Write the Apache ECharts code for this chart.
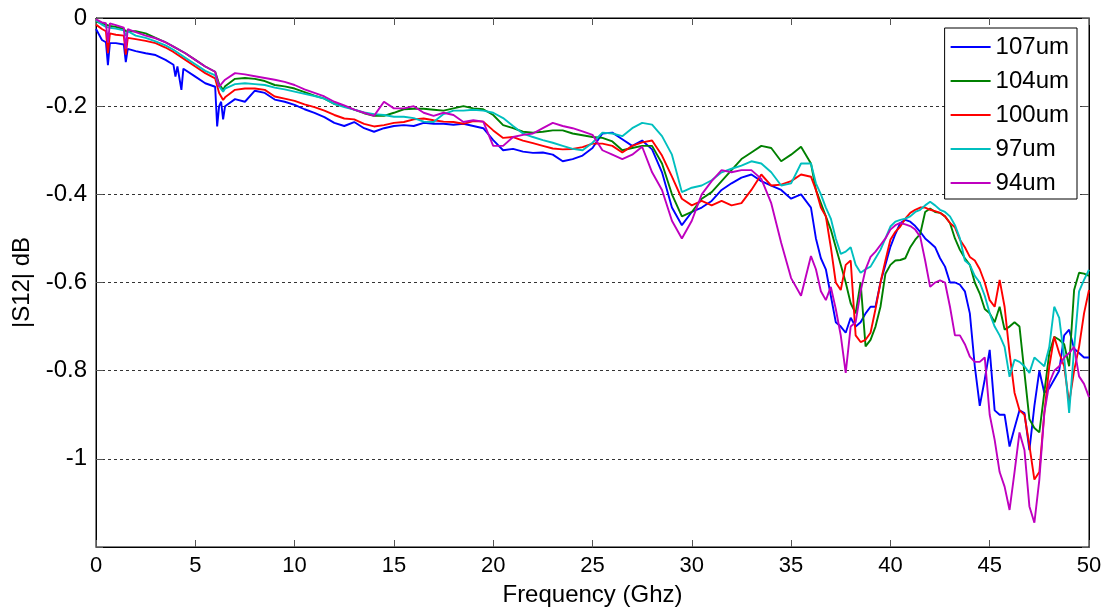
<!DOCTYPE html>
<html>
<head>
<meta charset="utf-8">
<script src="https://cdn.jsdelivr.net/npm/echarts@6/dist/echarts.min.js"></script>
<style>
html,body{margin:0;padding:0;background:#fff;}
#chart{width:1114px;height:612px;}
</style>
</head>
<body>
<div id="chart"></div>
<script>
// Frequency points (GHz)
const freq = [0,0.3,0.5,0.6,0.7,1,1.4,1.5,1.6,2,2.5,3,3.5,3.9,4,4.1,4.2,4.3,4.4,4.5,5,5.5,6,6.1,6.2,6.3,6.4,6.5,
  7,7.5,8,8.5,9,9.5,10,10.5,11,11.5,12,12.5,13,13.5,14,14.5,15,15.5,16,16.5,17,17.5,18,18.5,19,19.5,20,20.5,21,21.5,
  22,22.5,23,23.5,24,24.5,25,25.5,26,26.5,27,27.5,28,28.5,29,29.5,30,30.5,31,31.5,32,32.5,33,33.5,34,34.5,35,35.5,36,
  36.25,36.5,36.75,37,37.25,37.5,37.75,38,38.25,38.5,38.75,39,39.25,39.5,39.75,40,40.25,40.5,40.75,41,41.25,41.5,41.75,42,
  42.25,42.5,42.75,43,43.25,43.5,43.75,44,44.25,44.5,44.75,45,45.25,45.5,45.75,46,46.25,46.5,46.75,47,47.25,47.5,47.75,48,
  48.25,48.5,48.75,49,49.25,49.5,49.75,50];

const s107 = [-0.025,-0.05,-0.055,-0.107,-0.057,-0.057,-0.06,-0.1,-0.07,-0.075,-0.08,-0.084,-0.095,-0.106,-0.133,-0.11,-0.11,-0.163,-0.115,-0.118,-0.133,-0.148,-0.156,-0.246,-0.2,-0.19,-0.23,-0.2,
  -0.184,-0.19,-0.165,-0.17,-0.185,-0.19,-0.197,-0.207,-0.215,-0.225,-0.238,-0.245,-0.236,-0.25,-0.258,-0.25,-0.245,-0.243,-0.245,-0.238,-0.24,-0.24,-0.242,-0.24,-0.245,-0.25,-0.277,-0.3,-0.297,-0.303,
  -0.306,-0.305,-0.31,-0.325,-0.32,-0.312,-0.295,-0.262,-0.26,-0.275,-0.29,-0.278,-0.298,-0.35,-0.43,-0.47,-0.44,-0.43,-0.415,-0.39,-0.375,-0.362,-0.355,-0.37,-0.38,-0.39,-0.41,-0.4,-0.43,
  -0.5,-0.545,-0.57,-0.63,-0.69,-0.7,-0.714,-0.68,-0.7,-0.69,-0.67,-0.655,-0.655,-0.6,-0.56,-0.519,-0.49,-0.465,-0.458,-0.462,-0.472,-0.485,-0.5,-0.51,
  -0.52,-0.545,-0.564,-0.6,-0.6,-0.605,-0.62,-0.67,-0.79,-0.88,-0.82,-0.753,-0.89,-0.9,-0.9,-0.972,-0.93,-0.89,-0.896,-0.98,-0.88,-0.8,-0.85,-0.84,
  -0.82,-0.8,-0.72,-0.707,-0.75,-0.76,-0.77,-0.77];

const s104 = [-0.008,-0.012,-0.015,-0.018,-0.018,-0.02,-0.025,-0.03,-0.026,-0.03,-0.035,-0.045,-0.055,-0.065,-0.067,null,null,null,null,-0.08,-0.095,-0.11,-0.122,null,-0.15,null,-0.163,-0.155,
  -0.138,-0.136,-0.138,-0.143,-0.152,-0.155,-0.16,-0.168,-0.176,-0.183,-0.195,-0.2,-0.208,-0.216,-0.222,-0.222,-0.215,-0.207,-0.206,-0.206,-0.208,-0.21,-0.205,-0.2,-0.205,-0.207,-0.22,-0.243,-0.25,-0.258,
  -0.26,-0.258,-0.255,-0.255,-0.262,-0.266,-0.27,-0.272,-0.28,-0.3,-0.295,-0.29,-0.29,-0.33,-0.4,-0.45,-0.44,-0.41,-0.395,-0.37,-0.345,-0.32,-0.305,-0.29,-0.295,-0.325,-0.31,-0.292,-0.33,
  -0.39,-0.42,-0.45,-0.48,-0.52,-0.56,-0.6,-0.647,-0.67,-0.6,-0.745,-0.73,-0.7,-0.655,-0.58,-0.56,-0.55,-0.549,-0.545,-0.52,-0.503,-0.49,-0.44,-0.432,
  -0.44,-0.442,-0.45,-0.465,-0.5,-0.526,-0.545,-0.56,-0.6,-0.625,-0.66,-0.67,-0.69,-0.655,-0.707,-0.7,-0.69,-0.7,-0.805,-0.91,-0.93,-0.94,-0.85,-0.76,
  -0.723,-0.73,-0.74,-0.79,-0.617,-0.578,-0.58,-0.585];

const s100 = [-0.015,-0.025,-0.03,-0.08,-0.035,-0.038,-0.04,-0.083,-0.045,-0.048,-0.052,-0.057,-0.067,-0.077,-0.08,null,null,null,null,-0.095,-0.11,-0.125,-0.137,null,-0.17,null,-0.186,-0.18,
  -0.163,-0.16,-0.16,-0.163,-0.178,-0.183,-0.188,-0.196,-0.202,-0.21,-0.22,-0.228,-0.23,-0.24,-0.246,-0.243,-0.238,-0.236,-0.23,-0.228,-0.232,-0.235,-0.236,-0.24,-0.234,-0.235,-0.255,-0.272,-0.27,-0.278,
  -0.284,-0.29,-0.296,-0.298,-0.297,-0.293,-0.285,-0.285,-0.29,-0.305,-0.29,-0.282,-0.278,-0.312,-0.36,-0.41,-0.425,-0.415,-0.425,-0.415,-0.425,-0.42,-0.39,-0.355,-0.38,-0.378,-0.37,-0.355,-0.36,
  -0.39,-0.43,-0.45,-0.52,-0.6,-0.617,-0.56,-0.55,-0.72,-0.735,-0.73,-0.714,-0.66,-0.6,-0.55,-0.503,-0.485,-0.473,-0.455,-0.442,-0.435,-0.43,-0.43,-0.435,
  -0.438,-0.442,-0.45,-0.465,-0.475,-0.503,-0.52,-0.542,-0.55,-0.57,-0.6,-0.64,-0.655,-0.594,-0.655,-0.76,-0.85,-0.89,-0.9,-0.97,-1.047,-1.03,-0.896,-0.79,
  -0.723,-0.76,-0.79,-0.873,-0.8,-0.746,-0.67,-0.617];

const s97 = [-0.005,-0.015,-0.02,-0.022,-0.022,-0.024,-0.028,-0.04,-0.03,-0.04,-0.045,-0.053,-0.062,-0.072,-0.075,null,null,null,null,-0.09,-0.105,-0.12,-0.13,null,-0.155,null,-0.167,-0.16,
  -0.15,-0.148,-0.15,-0.152,-0.158,-0.162,-0.167,-0.172,-0.177,-0.183,-0.195,-0.202,-0.208,-0.214,-0.218,-0.22,-0.224,-0.224,-0.227,-0.235,-0.236,-0.218,-0.21,-0.21,-0.208,-0.21,-0.215,-0.227,-0.245,-0.262,
  -0.27,-0.277,-0.283,-0.29,-0.297,-0.3,-0.283,-0.26,-0.262,-0.268,-0.25,-0.238,-0.242,-0.268,-0.31,-0.395,-0.385,-0.38,-0.368,-0.35,-0.342,-0.335,-0.325,-0.33,-0.35,-0.38,-0.375,-0.33,-0.33,
  -0.375,-0.4,-0.43,-0.455,-0.5,-0.535,-0.53,-0.52,-0.56,-0.578,-0.57,-0.564,-0.545,-0.526,-0.5,-0.473,-0.462,-0.458,-0.455,-0.45,-0.44,-0.435,-0.425,-0.417,
  -0.425,-0.435,-0.44,-0.45,-0.47,-0.5,-0.55,-0.56,-0.585,-0.6,-0.63,-0.67,-0.7,-0.72,-0.746,-0.814,-0.775,-0.78,-0.79,-0.805,-0.77,-0.78,-0.79,-0.746,
  -0.655,-0.68,-0.77,-0.896,-0.75,-0.62,-0.594,-0.571];

const s94 = [-0.003,-0.01,-0.012,-0.056,-0.012,-0.016,-0.022,-0.07,-0.025,-0.032,-0.04,-0.046,-0.055,-0.065,-0.067,null,null,null,null,-0.08,-0.095,-0.11,-0.122,null,-0.156,null,-0.145,-0.14,
  -0.125,-0.128,-0.132,-0.136,-0.14,-0.145,-0.152,-0.162,-0.17,-0.178,-0.19,-0.198,-0.208,-0.215,-0.222,-0.19,-0.205,-0.205,-0.2,-0.215,-0.222,-0.215,-0.22,-0.236,-0.232,-0.235,-0.29,-0.29,-0.27,-0.265,
  -0.262,-0.25,-0.238,-0.245,-0.25,-0.257,-0.265,-0.3,-0.31,-0.32,-0.31,-0.292,-0.35,-0.39,-0.46,-0.5,-0.46,-0.4,-0.37,-0.345,-0.35,-0.345,-0.345,-0.365,-0.42,-0.51,-0.59,-0.63,-0.54,
  -0.57,-0.62,-0.64,-0.61,-0.66,-0.72,-0.805,-0.7,-0.69,-0.62,-0.57,-0.542,-0.53,-0.515,-0.5,-0.48,-0.47,-0.465,-0.468,-0.472,-0.48,-0.496,-0.55,-0.61,
  -0.6,-0.595,-0.6,-0.655,-0.72,-0.72,-0.74,-0.768,-0.78,-0.78,-0.77,-0.9,-0.957,-1.03,-1.063,-1.116,-1.03,-0.94,-0.98,-1.108,-1.145,-1.047,-0.896,-0.828,
  -0.8,-0.79,-0.77,-0.76,-0.746,-0.813,-0.83,-0.86];

const seriesNames = ['107um','104um','100um','97um','94um'];
const seriesColors = ['#0000ff','#008000','#ff0000','#00bfbf','#bf00bf'];
const seriesValues = [s107, s104, s100, s97, s94];

const yTicks = [0,-0.2,-0.4,-0.6,-0.8,-1];
const xTicks = [0,5,10,15,20,25,30,35,40,45,50];

const FONT = '"Liberation Sans", Arial, sans-serif';

const chart = echarts.init(document.getElementById('chart'), null, {renderer:'canvas'});

const series = seriesNames.map((name, i) => ({
  name: name,
  type: 'line',
  symbol: 'none',
  connectNulls: true,
  animation: false,
  lineStyle: {color: seriesColors[i], width: 1.9},
  itemStyle: {color: seriesColors[i]},
  data: freq.map((f, k) => [f, seriesValues[i][k]])
}));

chart.setOption({
  animation: false,
  backgroundColor: '#ffffff',
  grid: {left: 96, right: 25, top: 18, bottom: 65, show: true, borderColor: '#000', borderWidth: 1, containLabel: false},
  legend: {
    data: seriesNames,
    orient: 'vertical',
    right: 37, top: 28,
    backgroundColor: '#ffffff',
    borderColor: '#000', borderWidth: 1, borderRadius: 0,
    padding: [7, 8, 4, 6],
    itemWidth: 40, itemHeight: 14, itemGap: 10,
    textStyle: {fontFamily: FONT, fontSize: 24, color: '#000', lineHeight: 24},
    icon: 'path://M0,0 L40,0 L40,2 L0,2 Z'
  },
  xAxis: [{
    type: 'value', min: 0, max: 50, interval: 5, position: 'bottom',
    axisLine: {show: true, onZero: false, lineStyle: {color: '#000', width: 1}},
    axisTick: {show: true, inside: true, length: 7, lineStyle: {color: '#555'}},
    axisLabel: {fontFamily: FONT, fontSize: 22, color: '#000', margin: 8,
      formatter: v => xTicks.includes(v) ? String(v) : ''},
    splitLine: {show: false},
    name: 'Frequency (Ghz)', nameLocation: 'middle', nameGap: 36,
    nameTextStyle: {fontFamily: FONT, fontSize: 24, color: '#000'}
  }, {
    type: 'value', min: 0, max: 50, interval: 5, position: 'top',
    axisLine: {show: true, onZero: false, lineStyle: {color: '#000'}},
    axisTick: {show: true, inside: true, length: 7, lineStyle: {color: '#555'}},
    axisLabel: {show: false}, splitLine: {show: false}
  }],
  yAxis: [{
    type: 'value', min: -1.2, max: 0, interval: 0.2, position: 'left',
    axisLine: {show: true, onZero: false, lineStyle: {color: '#000', width: 1}},
    axisTick: {show: true, inside: true, length: 7, lineStyle: {color: '#555'}},
    axisLabel: {fontFamily: FONT, fontSize: 24, color: '#000', margin: 9,
      formatter: v => {
        const r = Math.round(v * 10) / 10;
        const hit = yTicks.find(t => Math.abs(t - r) < 1e-9);
        return hit === undefined ? '' : String(hit);
      }},
    splitLine: {show: true, lineStyle: {color: '#333', type: [3, 3], width: 1}},
    name: '|S12| dB', nameLocation: 'middle', nameGap: 54, nameRotate: 90,
    nameTextStyle: {fontFamily: FONT, fontSize: 24, color: '#000'}
  }, {
    type: 'value', min: -1.2, max: 0, interval: 0.2, position: 'right',
    axisLine: {show: true, onZero: false, lineStyle: {color: '#000'}},
    axisTick: {show: true, inside: true, length: 7, lineStyle: {color: '#555'}},
    axisLabel: {show: false}, splitLine: {show: false}
  }],
  series: series
});
</script>
</body>
</html>
